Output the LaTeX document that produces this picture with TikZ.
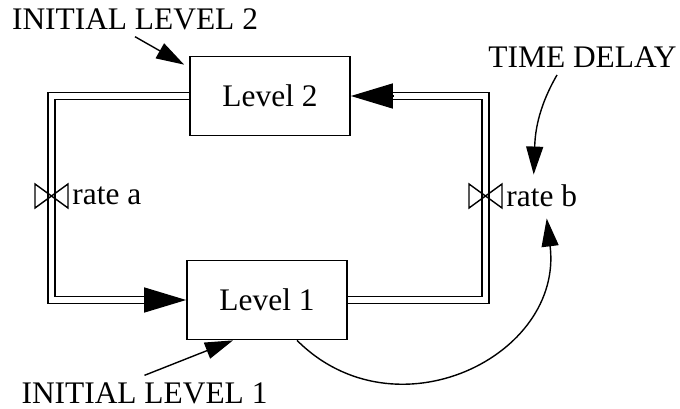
\documentclass[tikz,border=0pt]{standalone}
\usepackage{fontspec}
\setmainfont{Liberation Serif}
\usetikzlibrary{arrows.meta,positioning}
\newcommand\valve[1]{\draw[valveline] (#1) ++(-16.5,-12) -- ++(33,24) -- ++(0,-24) -- ++(-33,24) -- cycle;}
\def\tiplen{21pt}

\begin{document}
\begin{tikzpicture}[
    x=0.5pt, y=0.5pt,
    font=\fontsize{15.7}{18}\selectfont,
    level/.style={
      draw, line width=0.85pt, minimum width=80pt, minimum height=39.5pt
    },
    pipe/.style={
      draw, double, line width=0.7pt, double distance=2.8pt
    },
    flowtip/.style={
      -{Triangle[length=\tiplen,width=12.5pt]}, line width=0.7pt
    },
    infoarrow/.style={
      -{Triangle[length=14pt,width=8.5pt]}, line width=0.7pt
    },
    valveline/.style={line width=0.7pt},
    ratelabel/.style={inner sep=2pt},
    delaycurve/.style={
      out control={+(240:40)},
      in control={+(88:40)}
    },
    feedback/.style={
      out control={+(-45:139)},
      in control={+(277:139)}
    }
  ]
    \useasboundingbox (0,0) rectangle (680,408);

    \node[level] (Level2) at (270,312) {Level 2};
    \node[level] (Level1) at (267,108) {Level 1};

    \coordinate (RateA) at (51.5,212);
    \coordinate (RateB) at (485.5,212);

    % flows
    \draw[pipe] (Level2.west) -| (RateA) |- ([xshift=-\tiplen]Level1.west);
    \draw[flowtip] ([xshift=-\tiplen]Level1.west) -- (Level1.west);
    \draw[pipe] (Level1.east) -| (RateB) |- ([xshift=\tiplen]Level2.east);
    \draw[flowtip] ([xshift=\tiplen]Level2.east) -- (Level2.east);

    \valve{RateA}
    \valve{RateB}

    \node[ratelabel, right=8.25pt of RateA] (RateALabel) {rate a};
    \node[ratelabel, right=8.25pt of RateB] (RateBLabel) {rate b};

    \node (InitLevel2) at (135,389) {INITIAL LEVEL 2};
    \node (TimeDelay) at (582.5,350.5) {TIME DELAY};
    \node (InitLevel1) at (144.5,15) {INITIAL LEVEL 1};

    % information links
    \draw[infoarrow] (InitLevel2.south) -- ([shift={(-5,-9)}]Level2.north west);
    \draw[infoarrow] (InitLevel1.north) -- ([shift={(-34,0)}]Level1.south);
    \draw[infoarrow,delaycurve] ([shift={(-25.5,0)}]TimeDelay.south) to ([shift={(-8,6)}]RateBLabel.north);
    \draw[infoarrow,feedback] ([shift={(30,0)}]Level1.south) to ([shift={(5,-7)}]RateBLabel.south);
\end{tikzpicture}
\end{document}
